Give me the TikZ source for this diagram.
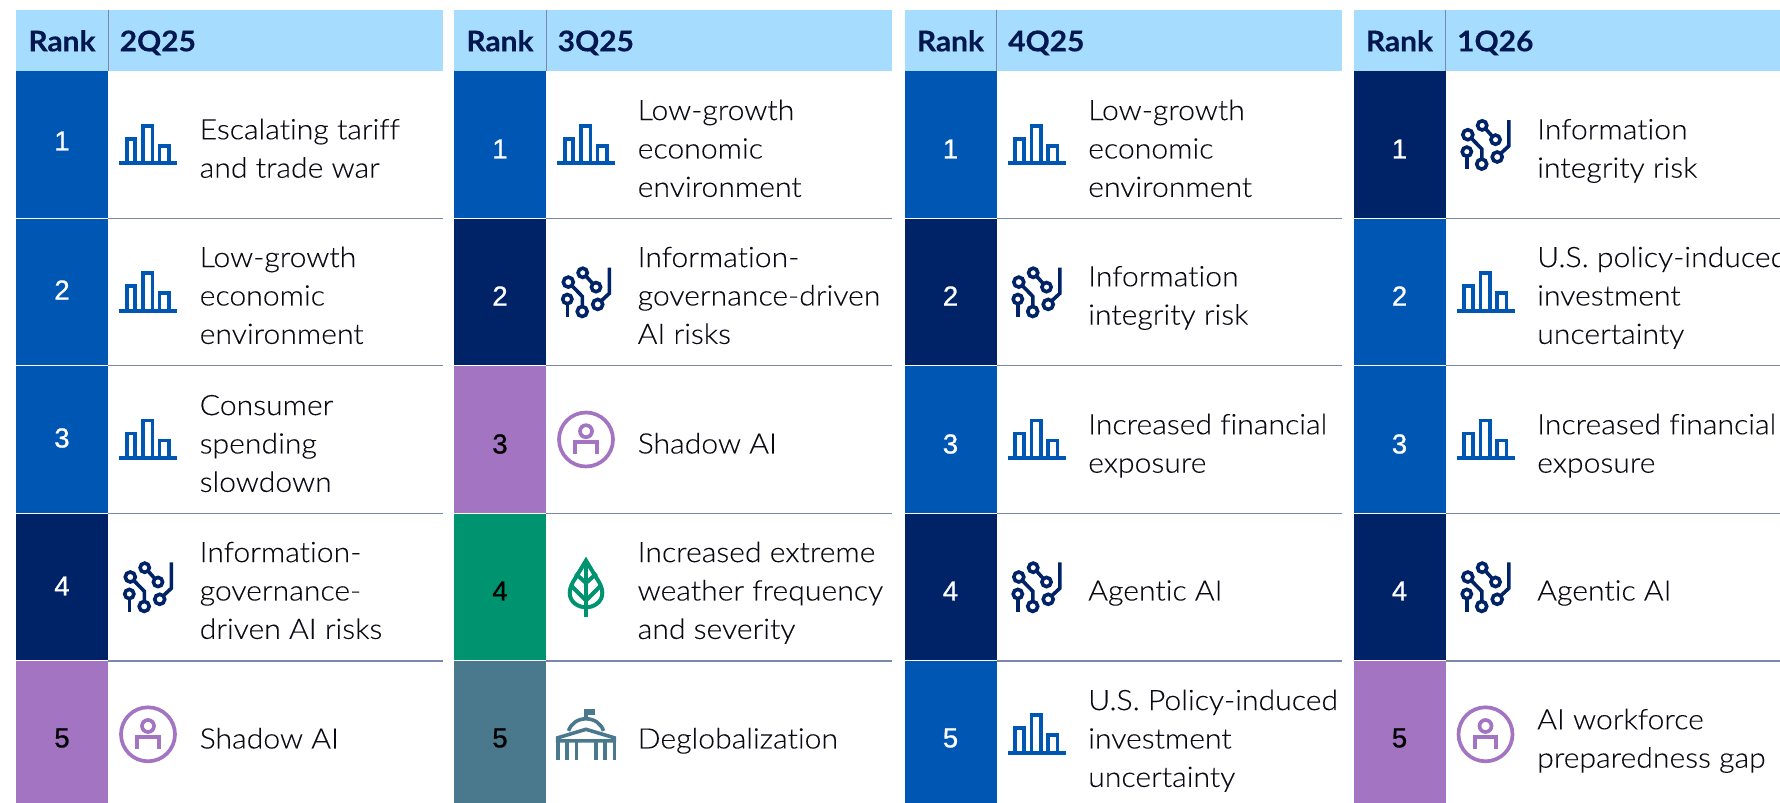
\documentclass[tikz,border=0pt]{standalone}
\usepackage{fontspec}
\setmainfont[FakeStretch=1.07,FakeBold=0.15,Ligatures=NoCommon]{Lato Light}
\newfontfamily\headfont[FakeStretch=1.05,FakeBold=0.3]{Lato Bold}
\newfontfamily\rankfont[FakeBold=0.9]{Liberation Sans}
\definecolor{headfill}{HTML}{A6DDFF}
\definecolor{ecoblue}{HTML}{0056B3}
\definecolor{navy}{HTML}{002368}
\definecolor{violet2}{HTML}{A374C1}
\definecolor{green2}{HTML}{00936F}
\definecolor{teal2}{HTML}{4A788C}
\definecolor{rulec}{HTML}{7988AC}
\definecolor{headtxt}{HTML}{00174F}
\definecolor{bodytxt}{HTML}{0A0A14}
\def\nl{\\\strut }
\tikzset{
  risktext/.style={inner sep=0pt,anchor=west,align=left,text=bodytxt,font={\fontsize{28.2}{38.4}\selectfont}},
  ranknum/.style={inner sep=0pt,anchor=center,font={\rankfont\fontsize{27.5}{27.5}\selectfont}},
  headtext/.style={inner sep=0pt,anchor=base,text=headtxt,font={\headfont\fontsize{28.5}{28.5}\selectfont}},
  headtextl/.style={headtext,anchor=base west},
  pics/barsicon/.style={code={
    \begin{scope}[draw=ecoblue,line width=3.8pt]
    \draw (-29,18.6) -- (29,18.6);
    \draw (-21.3,17) -- (-21.3,-6) -- (-12.7,-6) -- (-12.7,17);
    \draw (-5,17) -- (-5,-19) -- (4.5,-19) -- (4.5,17);
    \draw (11.5,17) -- (11.5,1) -- (21,1) -- (21,17);
    \end{scope}}},
  pics/circuiticon/.style={code={
    \begin{scope}[draw=navy,line width=3.6pt]
    \draw (-17.7,-10) circle (5);
    \draw (-18.7,7) circle (4.6);
    \draw (-3.8,19.4) circle (5);
    \draw (-3.3,-19.3) circle (4.6);
    \draw (10,-5) circle (4.6);
    \draw (11.7,12.3) circle (5);
    \draw (-14.2,-6.5) -- (-3.6,4.4) -- (-3.6,14.4);
    \draw (-18.7,11.6) -- (-18.7,24.7);
    \draw (0,-16) -- (6.8,-8.4);
    \draw (15.2,8.8) -- (23.3,1.3) -- (23.3,-24.6);
    \end{scope}}},
  pics/personicon/.style={code={
    \begin{scope}[draw=violet2]
    \draw[line width=3.7pt] (0,0) circle (27);
    \draw[line width=3.7pt] (0,-8.3) circle (6);
    \draw[line width=4pt] (-10.7,14.2) -- (-10.7,2.8) -- (10.7,2.8) -- (10.7,14.2);
    \end{scope}}},
  pics/leaficon/.style={code={
    \begin{scope}[draw=green2,line width=4pt,line join=miter]
    \draw (0,-26.5) -- (-10.5,-9)
      .. controls (-14,-4) and (-16.3,1) .. (-16.3,6)
      .. controls (-16.3,15) and (-8,20.3) .. (0,20.3)
      .. controls (8,20.3) and (16.3,15) .. (16.3,6)
      .. controls (16.3,1) and (14,-4) .. (10.5,-9) -- cycle;
    \draw (0,-24) -- (0,29.7);
    \draw (-10.5,-13.5) -- (0,-4) -- (10.5,-13.5);
    \draw (-14.5,-1) -- (0,13.5) -- (14.5,-1);
    \end{scope}}},
  pics/capitolicon/.style={code={
    \begin{scope}[draw=teal2,line width=3.6pt]
    \fill[teal2] (-1.8,-25.7) rectangle (9,-19.5);
    \draw (0,-25) -- (0,-15);
    \draw (-17.5,-3.4) .. controls (-15,-11) and (-8,-15.5) .. (0,-15.5)
      .. controls (8,-15.5) and (15,-11) .. (17.5,-3.4);
    \draw[line join=miter] (-28.3,6.5) -- (-28.3,3.5) -- (0,-5) -- (28.3,3.5) -- (28.3,6.5) -- cycle;
    \foreach \cx in {-28.3,-19.2,-9.5,10,18.7,28.3}
      \draw (\cx,6.5) -- (\cx,25.7);
    \end{scope}}}
}
\def\rowtop#1{\ifcase#1\or71\or218.5\or365.5\or513.5\or661\fi}
\def\rowbot#1{\ifcase#1\or218.5\or365.5\or513.5\or661\or803\fi}
\def\rowtxt#1{\ifcase#1\or150.8\or297.8\or445.8\or592.8\or740.8\fi}
\def\rowico#1{\ifcase#1\or144.7\or292.1\or439.5\or587\or734.3\fi}
% name, x left, x right, row, fill, number colour, number y, icon, text
\newcommand{\RiskRow}[9]{%
  \fill[#5] (#2,\rowtop{#4}) rectangle (#2+92,\rowbot{#4});
  \node[ranknum,text=#6] (#1n) at (#2+46,#7) {#4};
  \pic (#1i) at (#2+132,\rowico{#4}) {#8};
  \node[risktext] (#1t) at (#2+183.5,\rowtxt{#4}) {\strut #9};
  \ifnum#4<5
    \draw[white,line width=1.2pt] (#2,\rowbot{#4}) -- (#2+92,\rowbot{#4});
    \draw[rulec,line width=1.2pt] (#2+92,\rowbot{#4}) -- (#3,\rowbot{#4});
  \fi
}
\newcommand{\HeadRow}[4]{%
  \fill[headfill] (#2,10) rectangle (#3,71);
  \draw[rulec,line width=1pt] (#2+92,10) -- (#2+92,71);
  \node[headtext] (#1r) at (#2+46,51.3) {Rank};
  \node[headtextl] (#1q) at (#2+103.5,51.3) {#4};
}
\begin{document}
\begin{tikzpicture}[x=1pt,y=-1pt]
\useasboundingbox (0,0) rectangle (1780,803);
\clip (0,0) rectangle (1780,803);
\HeadRow{a}{16}{443}{2Q25}
\RiskRow{aa}{16}{443}{1}{ecoblue}{white}{141}{barsicon}{Escalating tariff\nl and trade war}
\RiskRow{ab}{16}{443}{2}{ecoblue}{white}{290}{barsicon}{Low-growth\nl economic\nl environment}
\RiskRow{ac}{16}{443}{3}{ecoblue}{white}{438}{barsicon}{Consumer\nl spending\nl slowdown}
\RiskRow{ad}{16}{443}{4}{navy}{white}{586}{circuiticon}{Information-\nl governance-\nl driven AI risks}
\RiskRow{ae}{16}{443}{5}{violet2}{black}{738}{personicon}{Shadow AI}
\HeadRow{b}{454}{892}{3Q25}
\RiskRow{ba}{454}{892}{1}{ecoblue}{white}{149}{barsicon}{Low-growth\nl economic\nl environment}
\RiskRow{bb}{454}{892}{2}{navy}{white}{296}{circuiticon}{Information-\nl governance-driven\nl AI risks}
\RiskRow{bc}{454}{892}{3}{violet2}{black}{444}{personicon}{Shadow AI}
\RiskRow{bd}{454}{892}{4}{green2}{black}{591}{leaficon}{Increased extreme\nl weather frequency\nl and severity}
\RiskRow{be}{454}{892}{5}{teal2}{black}{738}{capitolicon}{Deglobalization}
\HeadRow{c}{904.5}{1342}{4Q25}
\RiskRow{ca}{904.5}{1342}{1}{ecoblue}{white}{149}{barsicon}{Low-growth\nl economic\nl environment}
\RiskRow{cb}{904.5}{1342}{2}{navy}{white}{296}{circuiticon}{Information\nl integrity risk}
\RiskRow{cc}{904.5}{1342}{3}{ecoblue}{white}{444}{barsicon}{Increased financial\nl exposure}
\RiskRow{cd}{904.5}{1342}{4}{navy}{white}{591}{circuiticon}{Agentic AI}
\RiskRow{ce}{904.5}{1342}{5}{ecoblue}{white}{738}{barsicon}{U.S. Policy-induced\nl investment\nl uncertainty}
\HeadRow{d}{1353.5}{1780}{1Q26}
\RiskRow{da}{1353.5}{1780}{1}{navy}{white}{149}{circuiticon}{Information\nl integrity risk}
\RiskRow{db}{1353.5}{1780}{2}{ecoblue}{white}{296}{barsicon}{U.S. policy-induced\nl investment\nl uncertainty}
\RiskRow{dc}{1353.5}{1780}{3}{ecoblue}{white}{444}{barsicon}{Increased financial\nl exposure}
\RiskRow{dd}{1353.5}{1780}{4}{navy}{white}{591}{circuiticon}{Agentic AI}
\RiskRow{de}{1353.5}{1780}{5}{violet2}{black}{738}{personicon}{AI workforce\nl preparedness gap}
\end{tikzpicture}
\end{document}
